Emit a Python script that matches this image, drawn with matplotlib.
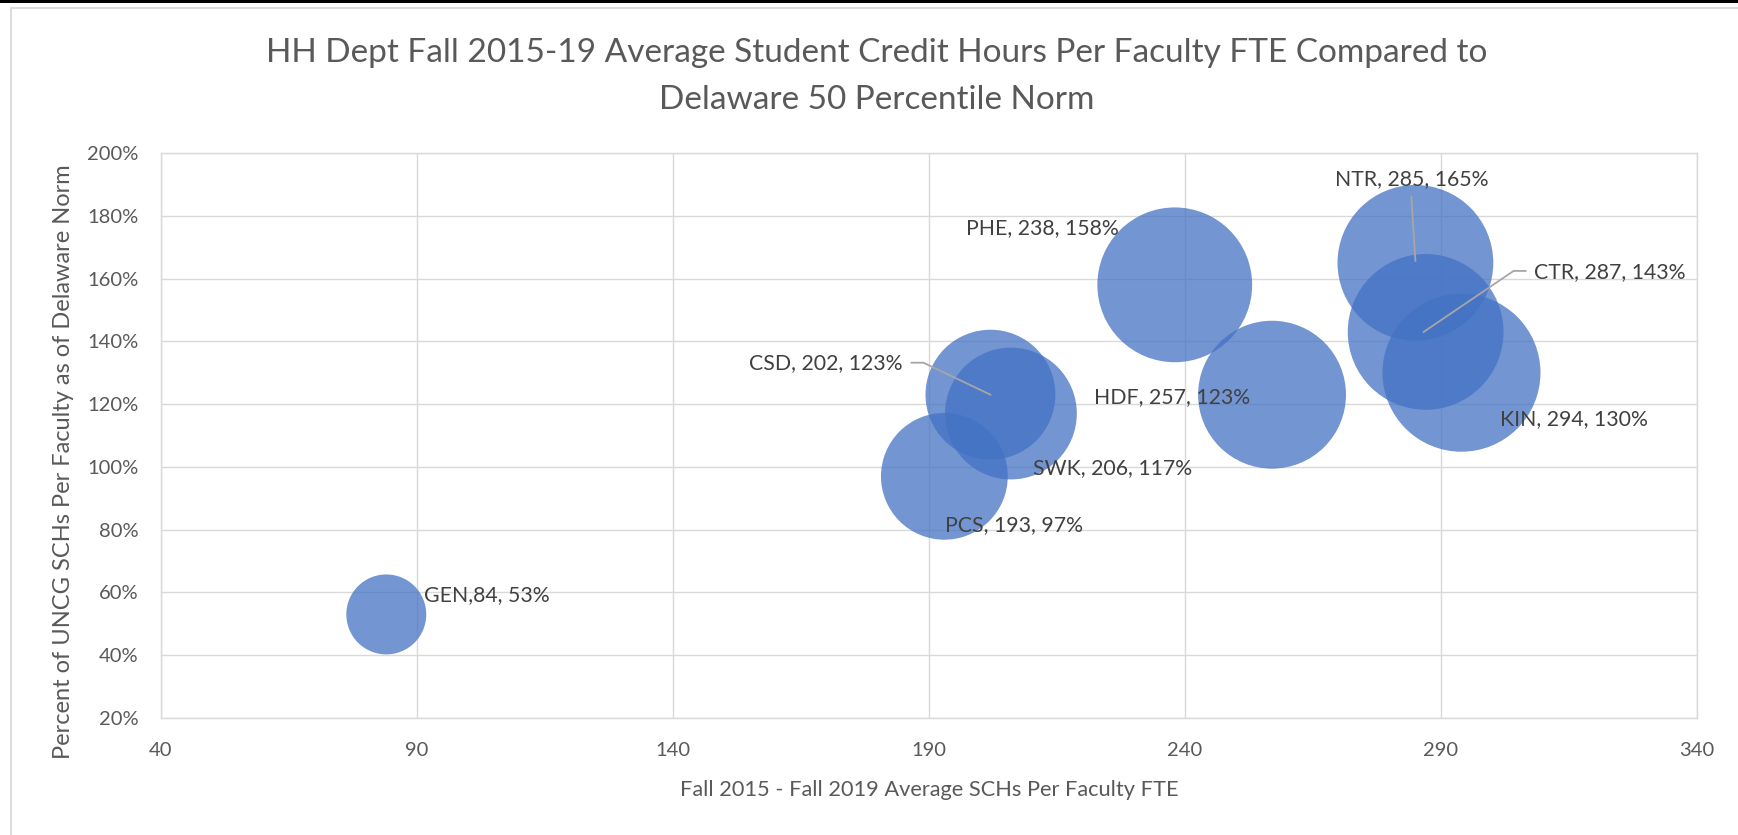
import matplotlib.pyplot as plt
import numpy as np
from matplotlib.transforms import IdentityTransform
from matplotlib.patches import Rectangle
from matplotlib.lines import Line2D

plt.rcParams['font.family'] = ['Lato', 'DejaVu Sans']

# data
depts = ['GEN', 'PCS', 'CSD', 'SWK', 'PHE', 'HDF', 'NTR', 'CTR', 'KIN']
sch_per_fte = [84, 193, 202, 206, 238, 257, 285, 287, 294]
pct_of_norm = [53, 97, 123, 117, 158, 123, 165, 143, 130]
bubble_size = [64, 161, 169, 174, 240, 219, 243, 243, 250]
point_labels = ['GEN,84, 53%', 'PCS, 193, 97%', 'CSD, 202, 123%', 'SWK, 206, 117%',
                'PHE, 238, 158%', 'HDF, 257, 123%', 'NTR, 285, 165%',
                'CTR, 287, 143%', 'KIN, 294, 130%']

x_ticks = [40, 90, 140, 190, 240, 290, 340]
y_ticks = [20, 40, 60, 80, 100, 120, 140, 160, 180, 200]

# label placement (pixel offsets from bubble centre, alignment)
label_pos = {
    'GEN': (38, 19, 'left'),
    'PCS': (1, -49, 'left'),
    'CSD': (-88, 32, 'right'),
    'SWK': (22, -55, 'left'),
    'PHE': (-56, 57, 'right'),
    'HDF': (-22, -2, 'right'),
    'NTR': (-4, 84, 'center'),
    'CTR': (108, 60, 'left'),
    'KIN': (39, -46, 'left'),
}
# leader lines (pixel offsets from bubble centre)
leaders = {
    'CSD': [(-79, 32), (-67, 32), (0, 0)],
    'NTR': [(-4, 66), (0, 2)],
    'CTR': [(100, 61), (88, 61), (-2, 0)],
}

W, H = 1738, 835
fig = plt.figure(figsize=(W / 100, H / 100), dpi=100)
ax = fig.add_axes([161 / W, 1 - 718 / H, (1697 - 161) / W, (718 - 153) / H])

# chart border
fig.patches.append(Rectangle((0, 1 - 3 / H), 1, 3 / H, transform=fig.transFigure,
                             facecolor='black', edgecolor='none'))
fig.patches.append(Rectangle((11 / W, -0.1), 1.2, 1 - 8 / H + 0.1, transform=fig.transFigure,
                             facecolor='none', edgecolor='#D9D9D9', linewidth=1.3))

grid_c = '#D9D9D9'
ax.set_xlim(40, 340)
ax.set_ylim(20, 200)
ax.set_xticks(x_ticks)
ax.set_yticks(y_ticks)
ax.set_yticklabels([f'{v}%' for v in y_ticks])
ax.grid(True, color=grid_c, linewidth=1.0)
ax.set_axisbelow(True)
for s in ax.spines.values():
    s.set_color(grid_c)
    s.set_linewidth(1.0)
ax.tick_params(length=0, labelsize=14.5, colors='#595959')
ax.tick_params(axis='x', pad=17)
ax.tick_params(axis='y', pad=16)

sizes = np.array(bubble_size, dtype=float)
smax = (158 * 0.72) ** 2
ax.scatter(sch_per_fte, pct_of_norm, s=sizes / sizes.max() * smax,
           color='#4472C4', alpha=0.75, edgecolors='none', zorder=3)

fig.canvas.draw()
for d, x, y, t in zip(depts, sch_per_fte, pct_of_norm, point_labels):
    dx, dy, ha = label_pos[d]
    ax.annotate(t, xy=(x, y), xytext=(dx, dy), textcoords='offset pixels',
                ha=ha, va='center', fontsize=15.3, color='#404040', zorder=5)
    if d in leaders:
        cx, cy = ax.transData.transform((x, y))
        pts = np.array(leaders[d], dtype=float) + [cx, cy]
        fig.add_artist(Line2D(pts[:, 0], pts[:, 1], transform=IdentityTransform(),
                              color='#A6A6A6', linewidth=1.3, zorder=6))

fig.text(877 / W, 1 - 53 / H, 'HH Dept Fall 2015-19 Average Student Credit Hours Per Faculty FTE Compared to',
         ha='center', va='center', fontsize=24, color='#595959')
fig.text(877 / W, 1 - 100 / H, 'Delaware 50 Percentile Norm',
         ha='center', va='center', fontsize=24, color='#595959')
fig.text(929 / W, 1 - 790 / H, 'Fall 2015 - Fall 2019 Average SCHs Per Faculty FTE',
         ha='center', va='center', fontsize=15.7, color='#595959')
fig.text(64 / W, 1 - 462 / H, 'Percent of UNCG SCHs Per Faculty as of Delaware Norm',
         ha='center', va='center', rotation=90, fontsize=17, color='#595959')

fig.savefig('out.png', dpi=100)
